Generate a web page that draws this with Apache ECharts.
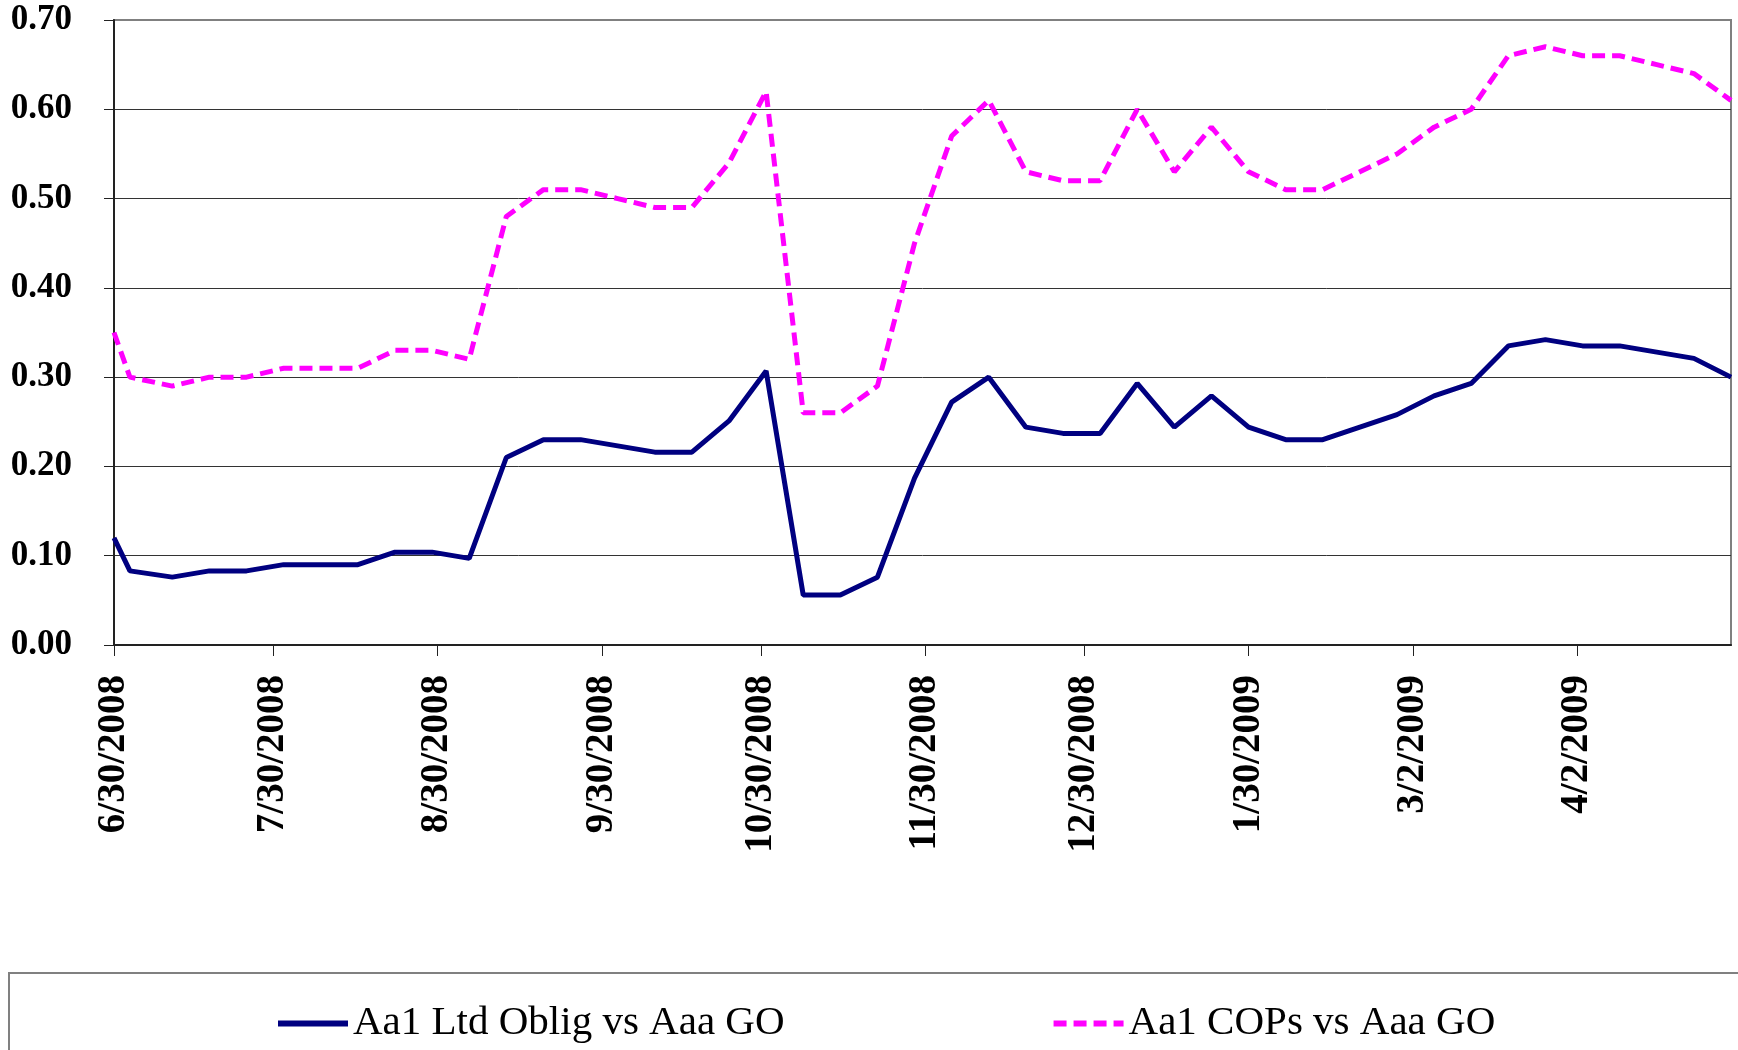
<!DOCTYPE html>
<html>
<head>
<meta charset="utf-8">
<script src="https://cdn.jsdelivr.net/npm/echarts@6/dist/echarts.min.js"></script>
<style>
  html, body { margin: 0; padding: 0; background: #fff; }
  #chart { width: 1738px; height: 1050px; }
</style>
</head>
<body>
<div id="chart"></div>
<script>
// weekly observation dates
var dates = [
  '2008-06-30', '2008-07-03', '2008-07-11', '2008-07-18', '2008-07-25',
  '2008-08-01', '2008-08-08', '2008-08-15', '2008-08-22', '2008-08-29',
  '2008-09-05', '2008-09-12', '2008-09-19', '2008-09-26', '2008-10-03',
  '2008-10-10', '2008-10-17', '2008-10-24', '2008-10-31', '2008-11-07',
  '2008-11-14', '2008-11-21', '2008-11-28', '2008-12-05', '2008-12-12',
  '2008-12-19', '2008-12-26', '2009-01-02', '2009-01-09', '2009-01-16',
  '2009-01-23', '2009-01-30', '2009-02-06', '2009-02-13', '2009-02-20',
  '2009-02-27', '2009-03-06', '2009-03-13', '2009-03-20', '2009-03-27',
  '2009-04-03', '2009-04-10', '2009-04-17', '2009-04-24', '2009-05-01'
];

var ltdOblig = [
  0.12, 0.083, 0.076, 0.083, 0.083, 0.09, 0.09, 0.09, 0.104, 0.104,
  0.097, 0.21, 0.23, 0.23, 0.223, 0.216, 0.216, 0.251, 0.307, 0.056,
  0.056, 0.076, 0.187, 0.272, 0.30, 0.244, 0.237, 0.237, 0.293, 0.244,
  0.279, 0.244, 0.23, 0.23, 0.244, 0.258, 0.279, 0.293, 0.335, 0.342,
  0.335, 0.335, 0.328, 0.321, 0.30
];

var cops = [
  0.35, 0.30, 0.29, 0.30, 0.30, 0.31, 0.31, 0.31, 0.33, 0.33,
  0.32, 0.48, 0.51, 0.51, 0.50, 0.49, 0.49, 0.54, 0.62, 0.26,
  0.26, 0.29, 0.45, 0.57, 0.61, 0.53, 0.52, 0.52, 0.60, 0.53,
  0.58, 0.53, 0.51, 0.51, 0.53, 0.55, 0.58, 0.60, 0.66, 0.67,
  0.66, 0.66, 0.65, 0.64, 0.61
];

// x-axis tick dates (monthly, Excel style)
var tickDates = [
  '2008-06-30', '2008-07-30', '2008-08-30', '2008-09-30', '2008-10-30',
  '2008-11-30', '2008-12-30', '2009-01-30', '2009-03-02', '2009-04-02'
];
var axisStart = '2008-06-30';
var axisEnd = '2009-05-01';

var seriesNames = ['Aa1 Ltd Oblig vs Aaa GO', 'Aa1 COPs vs Aaa GO'];

function ts(s) {
  var p = s.split('-');
  return new Date(+p[0], +p[1] - 1, +p[2]).getTime();
}

function pairs(vals) {
  return dates.map(function (d, i) { return [ts(d), vals[i]]; });
}

var chartView = echarts.init(document.getElementById('chart'));
var serif = '"Liberation Serif", "DejaVu Serif", serif';

chartView.setOption({
  animation: false,
  backgroundColor: '#fff',
  grid: {
    left: 114, right: 7, top: 20, bottom: 405,
    show: true, borderColor: '#808080', borderWidth: 2
  },
  xAxis: {
    type: 'value',
    min: ts(axisStart),
    max: ts(axisEnd),
    axisLine: { onZero: false, lineStyle: { color: '#222', width: 2 } },
    axisTick: {
      show: true, inside: false, length: 11,
      lineStyle: { color: '#222', width: 1 },
      customValues: tickDates.map(ts)
    },
    axisLabel: {
      rotate: 90,
      margin: 30,
      fontFamily: serif,
      fontWeight: 'bold',
      fontSize: 39,
      color: '#000',
      customValues: tickDates.map(ts),
      formatter: function (val) {
        var d = new Date(val);
        return (d.getMonth() + 1) + '/' + d.getDate() + '/' + d.getFullYear();
      }
    },
    splitLine: { show: false }
  },
  yAxis: {
    type: 'value',
    min: 0, max: 0.7, interval: 0.1,
    axisLine: { show: true, lineStyle: { color: '#222', width: 2 } },
    axisTick: { show: true, inside: false, length: 10, lineStyle: { color: '#222' } },
    axisLabel: {
      margin: 42,
      fontFamily: serif,
      fontWeight: 'bold',
      fontSize: 35,
      color: '#000',
      formatter: function (v) { return v.toFixed(2); }
    },
    splitLine: {
      show: true,
      lineStyle: {
        color: ['#222', '#333', '#333', '#333', '#333', '#333', '#333', '#808080'],
        width: 1
      }
    }
  },
  legend: {
    left: 270,
    top: 998,
    itemWidth: 70,
    itemHeight: 14,
    itemGap: 266,
    itemStyle: { opacity: 0 },
    lineStyle: { width: 6 },
    textStyle: { fontFamily: serif, fontSize: 41, color: '#000' },
    data: seriesNames
  },
  graphic: [{
    type: 'rect',
    shape: { x: 9, y: 973, width: 1760, height: 120 },
    style: { fill: 'none', stroke: '#808080', lineWidth: 2 },
    silent: true
  }],
  series: [
    {
      name: seriesNames[0],
      type: 'line',
      symbol: 'none',
      data: pairs(ltdOblig),
      lineStyle: { color: '#000080', width: 5 },
      itemStyle: { color: '#000080' },
      z: 3
    },
    {
      name: seriesNames[1],
      type: 'line',
      symbol: 'none',
      data: pairs(cops),
      lineStyle: { color: '#ff00ff', width: 5, type: [13, 7] },
      itemStyle: { color: '#ff00ff' },
      z: 2
    }
  ]
});
</script>
</body>
</html>
